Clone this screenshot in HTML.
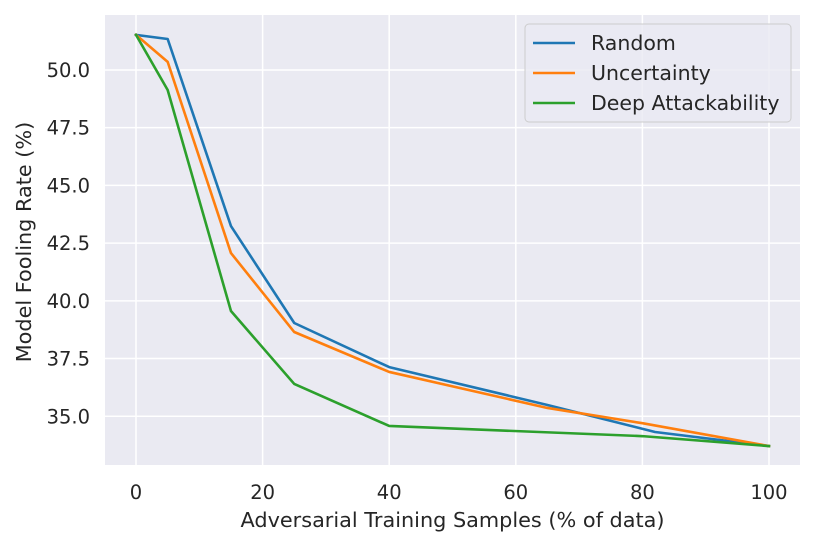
<!DOCTYPE html>
<html><head><meta charset="utf-8"><style>
body{margin:0;background:#fff;font-family:"DejaVu Sans","Liberation Sans",sans-serif}
</style></head><body>
<svg id="chart" width="816" height="545" xmlns="http://www.w3.org/2000/svg" font-family="DejaVu Sans, Liberation Sans, sans-serif"></svg>
<script>
const xTicks=[0,20,40,60,80,100];
const yTicks=[35.0,37.5,40.0,42.5,45.0,47.5,50.0];
const seriesNames=["Random","Uncertainty","Deep Attackability"];
const colors=["#1f77b4","#ff7f0e","#2ca02c"];
const randomX=[0,5,15,25,40,65,82,100];
const randomY=[51.52,51.34,43.24,39.04,37.13,35.49,34.32,33.71];
const uncX=[0,5,15,25,40,65,80,100];
const uncY=[51.52,50.35,42.07,38.65,36.92,35.36,34.7,33.71];
const deepX=[0,5,15,25,40,80,100];
const deepY=[51.52,49.13,39.56,36.4,34.58,34.14,33.71];

const L=105,R=800,T=15,B=465;
const xMin=-4.9,xMax=104.9,yMin=32.89,yMax=52.38;
const sx=v=>L+(v-xMin)/(xMax-xMin)*(R-L);
const sy=v=>B-(v-yMin)/(yMax-yMin)*(B-T);
const svg=document.getElementById('chart');
const NS="http://www.w3.org/2000/svg";
function mk(tag,attrs,parent){const e=document.createElementNS(NS,tag);for(const k in attrs)e.setAttribute(k,attrs[k]);(parent||svg).appendChild(e);return e;}

const bg=mk('rect',{x:L,y:T,width:R-L,height:B-T,fill:'#eaeaf2'});



xTicks.forEach(t=>{
  const g=mk('line',{x1:sx(t),x2:sx(t),y1:T,y2:B,stroke:'#fff','stroke-width':1.5});
  
  
  const tx=mk('text',{x:sx(t),y:499,'text-anchor':'middle','font-size':19.5,fill:'#262626'});
  tx.textContent=t;
  
  
});
yTicks.forEach(t=>{
  const g=mk('line',{x1:L,x2:R,y1:sy(t),y2:sy(t),stroke:'#fff','stroke-width':1.5});
  
  
  const tx=mk('text',{x:90,y:sy(t)+7,'text-anchor':'end','font-size':19.5,fill:'#262626'});
  tx.textContent=t.toFixed(1);
  
  
});

const data=[[randomX,randomY],[uncX,uncY],[deepX,deepY]];
data.forEach((d,i)=>{
  const pts=d[0].map((x,j)=>sx(x)+','+sy(d[1][j])).join(' ');
  const p=mk('polyline',{points:pts,fill:'none',stroke:colors[i],'stroke-width':2.6,'stroke-linejoin':'round','stroke-linecap':'square'});
  
  
});

const xl=mk('text',{x:(L+R)/2,y:527,'text-anchor':'middle','font-size':20.8,fill:'#262626'});
xl.textContent='Adversarial Training Samples (% of data)';


const yl=mk('text',{x:0,y:0,'text-anchor':'middle','font-size':20.8,fill:'#262626',transform:'translate(31,'+((T+B)/2+2)+') rotate(-90)'});
yl.textContent='Model Fooling Rate (%)';



const lg=mk('g',{});


mk('rect',{x:525,y:24,width:266,height:98,rx:4,fill:'#eaeaf2','fill-opacity':0.8,stroke:'#cccccc'},lg);
seriesNames.forEach((n,i)=>{
  const y=43+i*30;
  const ln=mk('line',{x1:533,x2:575,y1:y,y2:y,stroke:colors[i],'stroke-width':2.6},lg);
  
  
  const t=mk('text',{x:591,y:y+7,'font-size':20.5,fill:'#262626'},lg);
  t.textContent=n;
  
  
});
</script>
</body></html>
